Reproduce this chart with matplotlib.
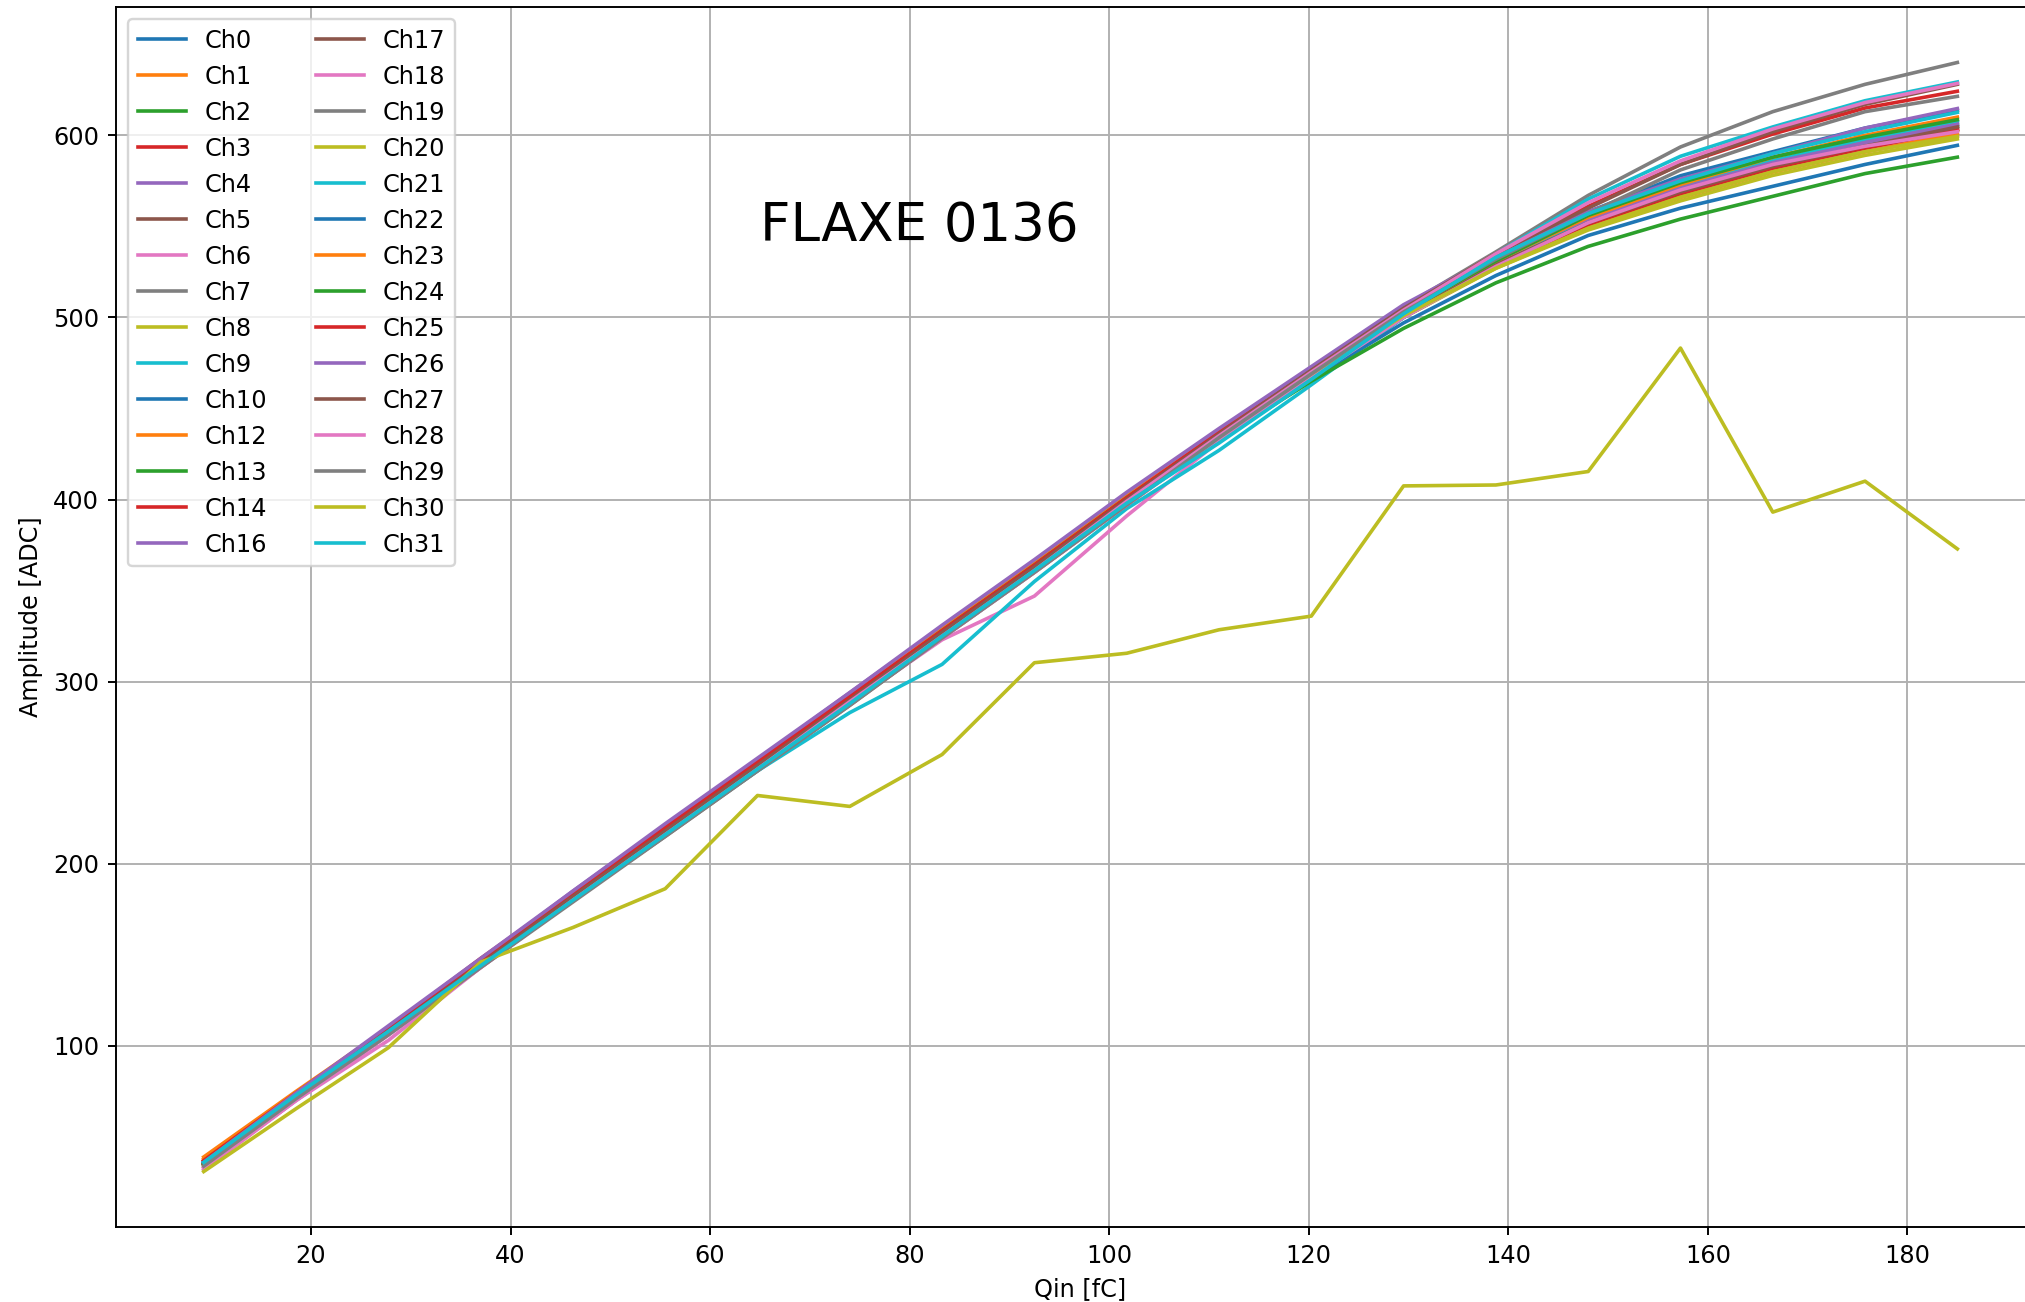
import numpy as np
import matplotlib
matplotlib.use("Agg")
import matplotlib.pyplot as plt
from matplotlib.ticker import MultipleLocator

# Injected charge points (fC)
qin = [9.25, 18.5, 27.75, 37.0, 46.25, 55.5, 64.75, 74.0, 83.25, 92.5,
       101.75, 111.0, 120.25, 129.5, 138.75, 148.0, 157.25, 166.5, 175.75, 185.0]

# Measured amplitude per channel (ADC)
ch0  = [36, 73, 109, 146, 183, 219, 255, 291, 328, 364, 401, 436, 470, 503, 530, 552, 569, 584, 595, 605]
ch1  = [39, 75, 110, 147, 183, 219, 255, 291, 327, 363, 400, 435, 469, 501, 528, 550, 567, 582, 593, 603]
ch2  = [35, 72, 108, 146, 183, 219, 255, 291, 328, 363, 400, 436, 470, 503, 531, 553, 570, 585, 596, 606]
ch3  = [37, 74, 110, 147, 184, 220, 256, 292, 328, 364, 401, 436, 470, 503, 530, 552, 569, 583, 594, 604]
ch4  = [36, 73, 110, 147, 184, 220, 257, 293, 330, 366, 403, 438, 472, 505, 532, 554, 571, 586, 597, 607]
ch5  = [35, 72, 108, 145, 182, 218, 254, 290, 326, 362, 399, 434, 468, 501, 529, 551, 568, 582, 593, 603]
ch6  = [32, 70, 103, 143, 180, 216, 252, 288, 323, 347, 391, 432, 467, 500, 528, 550, 566, 580, 591, 600]
ch7  = [35, 71, 107, 144, 180, 215, 251, 287, 324, 360, 397, 433, 467, 500, 528, 551, 568, 583, 594, 605]
ch8  = [34, 71, 107, 144, 181, 217, 253, 290, 326, 362, 399, 434, 468, 500, 527, 548, 564, 578, 589, 598]
ch9  = [36, 73, 109, 145, 181, 216, 251, 283, 309.5, 355, 395, 427, 463, 500, 530, 554, 572, 586, 598, 608]
ch10 = [36, 72, 108, 145, 181, 217, 253, 289, 325, 361, 398, 433, 466, 497, 523, 545, 560, 572, 584, 594.5]
ch12 = [38, 74, 109, 146, 182, 218, 254, 290, 327, 363, 400, 435, 469, 501, 528, 550, 566, 580, 591, 601]
ch13 = [35, 72, 108, 146, 183, 218, 254, 290, 326, 362, 399, 433, 465, 494, 519, 539, 554, 566.5, 579, 588]
ch14 = [37, 74, 110, 148, 184, 220, 256, 292, 328, 364, 401, 436, 470, 502, 529, 551, 568, 582, 593, 603]
ch16 = [36, 74, 110, 147, 185, 221, 257, 294, 330, 366, 403, 438, 472, 506, 533, 554, 571, 585, 596, 606]
ch17 = [35, 72, 108, 145, 182, 218, 254, 290, 327, 363, 400, 435, 469, 502, 529, 552, 569, 583, 594, 604.6]
ch18 = [33, 70, 106, 143, 180, 216, 252, 288, 324, 360, 397, 433, 467, 500, 528, 552, 570, 584, 594, 602]
ch19 = [35, 72, 107, 144, 181, 217, 253, 289, 325, 361, 399, 436, 471, 506, 536, 567, 593.6, 613, 628, 640]
ch20 = [35, 72, 108, 146, 183, 219, 255, 292, 328, 364, 401, 436, 469, 501, 527, 549, 566, 580, 591, 599.4]
ch21 = [36, 73, 109, 145, 182, 218, 254, 290, 326, 362, 399, 435, 470, 504, 535, 565, 588.5, 604.6, 619, 629.3]
ch22 = [36, 73, 109, 146, 183, 219, 255, 291, 328, 364, 401, 436, 470, 504, 532, 558, 577.8, 591, 604, 613.7]
ch23 = [37, 74, 110, 147, 183, 219, 256, 292, 329, 365, 402, 437, 471, 503, 531, 555, 573, 588, 600, 610]
ch24 = [35, 72, 108, 146, 183, 219, 255, 291, 328, 364, 401, 436, 470, 503, 531, 556, 574, 588, 599, 608.6]
ch25 = [37, 74, 110, 147, 184, 220, 256, 292, 328, 364, 401, 437, 471, 505, 535, 561, 584, 600.7, 615, 624.2]
ch26 = [36, 74, 111, 148, 185, 222, 258, 294, 331, 367, 404, 439, 473, 507, 534, 558, 576, 590, 604, 614.7]
ch27 = [35, 72, 108, 145, 182, 218, 254, 290, 327, 363, 400, 436, 471, 505, 535, 560, 584, 602, 617, 628]
ch28 = [33, 70, 106, 143, 180, 216, 252, 289, 325, 361, 399, 435, 470, 504, 535, 563, 586, 603.5, 618, 628.5]
ch29 = [34, 71, 106, 143, 179, 215, 251, 287, 324, 360, 397, 434, 469, 503, 532, 557, 581, 598, 613, 621.4]
ch30 = [31, 65.5, 99, 146, 165, 186.3, 237.5, 231.5, 260, 310.4, 315.6, 328.5, 336, 407.5, 408, 415.4, 483.2, 393.1, 410.1, 372.9]
ch31 = [36, 73, 108, 144, 180, 216, 252, 288, 325, 361, 398, 431, 466, 502, 533, 557, 575, 590, 602, 612.6]

channels = [0, 1, 2, 3, 4, 5, 6, 7, 8, 9, 10, 12, 13, 14, 16,
            17, 18, 19, 20, 21, 22, 23, 24, 25, 26, 27, 28, 29, 30, 31]
amplitudes = [ch0, ch1, ch2, ch3, ch4, ch5, ch6, ch7, ch8, ch9, ch10, ch12, ch13, ch14, ch16,
              ch17, ch18, ch19, ch20, ch21, ch22, ch23, ch24, ch25, ch26, ch27, ch28, ch29, ch30, ch31]

DPI = 173
fig = plt.figure(figsize=(2025 / DPI, 1302 / DPI), dpi=DPI)
ax = fig.add_axes([0.0573, 0.0576, 0.9526, 0.937])

for ch, amp in zip(channels, amplitudes):
    ax.plot(qin, amp, label=f"Ch{ch}")

ax.text(65, 542, "FLAXE 0136", fontsize=22)
ax.set_xlabel("Qin [fC]")
ax.set_ylabel("Amplitude [ADC]")
ax.xaxis.set_major_locator(MultipleLocator(20))
ax.grid(True)
ax.legend(loc="upper left", ncol=2)

fig.savefig("out.png", dpi=DPI)
